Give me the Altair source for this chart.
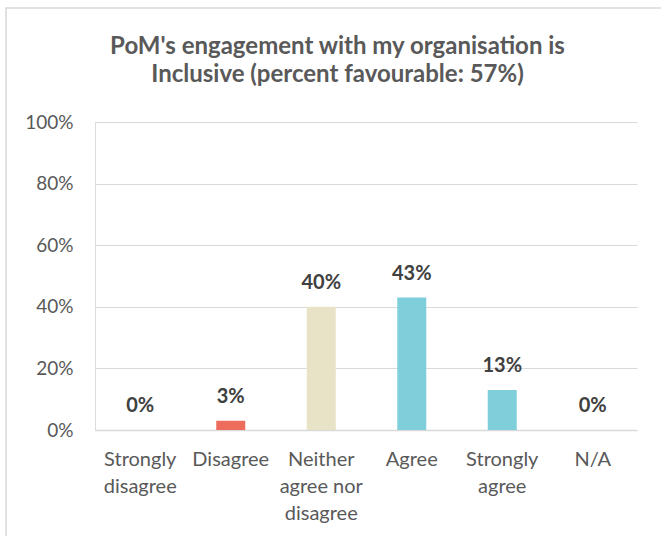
import altair as alt
import pandas as pd

categories = ["Strongly disagree", "Disagree", "Neither agree nor disagree", "Agree", "Strongly agree", "N/A"]
label_lines = [["Strongly", "disagree"], ["Disagree"], ["Neither", "agree nor", "disagree"], ["Agree"], ["Strongly", "agree"], ["N/A"]]
values = [0.0, 0.03, 0.40, 0.43, 0.13, 0.0]
colors = ["#EE6C5B", "#EE6C5B", "#E8E2C6", "#7ECFD9", "#7ECFD9", "#7ECFD9"]
y_ticks = [0, 0.2, 0.4, 0.6, 0.8, 1.0]

df = pd.DataFrame({"cat": categories, "val": values, "color": colors})

FONT = "Lato"
GREY = "#595959"

expr_parts = []
for c, lines in zip(categories, label_lines):
    arr = "[" + ",".join("'" + l + "'" for l in lines) + "]"
    expr_parts.append(f"datum.value == '{c}' ? {arr} : ")
label_expr = "".join(expr_parts) + "datum.value"

x = alt.X("cat:N", sort=categories, title=None,
          scale=alt.Scale(paddingInner=0, paddingOuter=0),
          axis=alt.Axis(labelAngle=0, labelExpr=label_expr, labelFont=FONT, labelFontSize=20,
                        labelColor=GREY, labelPadding=19, labelBaseline="top", labelLineHeight=27,
                        ticks=False, domainColor="#D9D9D9", domainWidth=1.5, grid=False,
                        labelLimit=0))
y = alt.Y("val:Q", title=None, scale=alt.Scale(domain=[0, 1]),
          axis=alt.Axis(values=y_ticks, format=".0%", labelFont=FONT, labelFontSize=19,
                        labelColor=GREY, labelPadding=22, ticks=False, domain=False,
                        gridColor="#D9D9D9", gridWidth=1.2))

deco_df = pd.DataFrame({"k": [0]})
border = alt.Chart(deco_df).mark_rect(fill="transparent", stroke="#D9D9D9", strokeWidth=1.5).encode(
    x=alt.value(-89), x2=alt.value(580), y=alt.value(-114), y2=alt.value(430)
)
cover = alt.Chart(deco_df).mark_rect(fill="white", stroke="transparent").encode(
    x=alt.value(542.6), x2=alt.value(560), y=alt.value(-2), y2=alt.value(310)
)

base = alt.Chart(df).encode(x=x, y=y)
bars = base.mark_bar(size=29).encode(color=alt.Color("color:N", scale=None))
text = base.mark_text(font=FONT, fontSize=20, fontWeight="bold", color="#404040",
                      baseline="middle", dy=-24).encode(
    text=alt.Text("val:Q", format=".0%")
)

chart = alt.layer(bars, text, cover, border).properties(
    width=543, height=308,
    autosize=alt.AutoSizeParams(type="none"),
    padding={"left": 95, "top": 122, "right": 23, "bottom": 106},
    title=alt.TitleParams(["PoM's engagement with my organisation is", "Inclusive (percent favourable: 57%)"],
                          font=FONT, fontSize=24, fontWeight="bold", color=GREY,
                          anchor="middle", dx=-29, offset=-80, lineHeight=28)
).configure_view(stroke="transparent", strokeWidth=0).configure_axisY(domain=False).configure(background="white")

chart.save("out.html", embed_options={"renderer": "svg", "actions": False})
